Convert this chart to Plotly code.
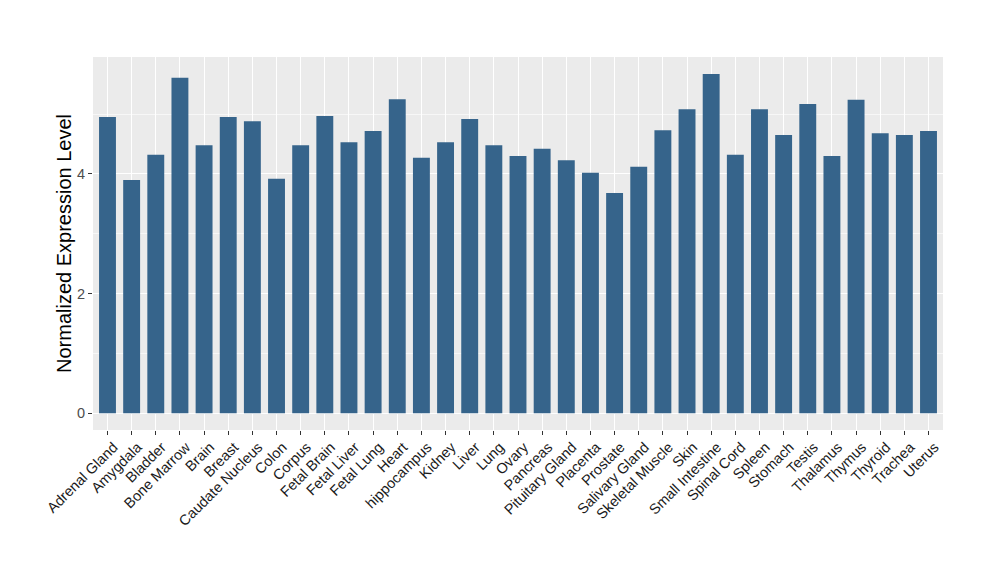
import plotly.graph_objects as go

tissues = ["Adrenal Gland", "Amygdala", "Bladder", "Bone Marrow", "Brain", "Breast",
           "Caudate Nucleus", "Colon", "Corpus", "Fetal Brain", "Fetal Liver", "Fetal Lung",
           "Heart", "hippocampus", "Kidney", "Liver", "Lung", "Ovary", "Pancreas",
           "Pituitary Gland", "Placenta", "Prostate", "Salivary Gland", "Skeletal Muscle",
           "Skin", "Small Intestine", "Spinal Cord", "Spleen", "Stomach", "Testis",
           "Thalamus", "Thymus", "Thyroid", "Trachea", "Uterus"]
expression = [4.95, 3.90, 4.32, 5.61, 4.48, 4.95,
              4.88, 3.92, 4.48, 4.97, 4.53, 4.72,
              5.25, 4.27, 4.53, 4.92, 4.48, 4.30, 4.42,
              4.23, 4.02, 3.68, 4.12, 4.73,
              5.08, 5.67, 4.32, 5.08, 4.65, 5.17,
              4.30, 5.24, 4.68, 4.65, 4.72]
y_ticks = [0, 2, 4]

fig = go.Figure(go.Bar(
    x=list(range(len(tissues))), y=expression,
    marker=dict(color="#36648B", line=dict(width=0)),
    width=0.7,
))

fig.update_layout(
    width=1000, height=580,
    margin=dict(l=85, r=65, t=49, b=158),
    paper_bgcolor="white", plot_bgcolor="#EBEBEB",
    showlegend=False,
    font=dict(family="Liberation Sans, Arial, sans-serif"),
)
fig.update_xaxes(
    automargin=False,
    range=[-0.6, len(tissues) - 0.4],
    tickmode="array", tickvals=list(range(len(tissues))), ticktext=tissues,
    tickangle=-45, tickfont=dict(size=14.5, color="#1A1A1A"),
    ticklabelshift=6, ticklabelstandoff=-2,
    ticks="outside", ticklen=4, tickcolor="#333333",
    showgrid=True, gridcolor="white", gridwidth=1.1,
    zeroline=False, showline=False,
)
fig.update_yaxes(
    automargin=False,
    range=[-0.28, 5.955],
    tickmode="array", tickvals=y_ticks, ticktext=[str(v) for v in y_ticks],
    tickfont=dict(size=14.5, color="#4D4D4D"),
    ticks="outside", ticklen=4, tickcolor="#333333",
    showgrid=True, gridcolor="white", gridwidth=1.1,
    minor=dict(tickvals=[1, 3, 5], showgrid=True, gridcolor="#F7F7F7", gridwidth=0.6, ticks=""),
    zeroline=False, showline=False,
    title=dict(text="Normalized Expression Level", font=dict(size=20, color="black"), standoff=0),
)

fig.write_html("out.html")
